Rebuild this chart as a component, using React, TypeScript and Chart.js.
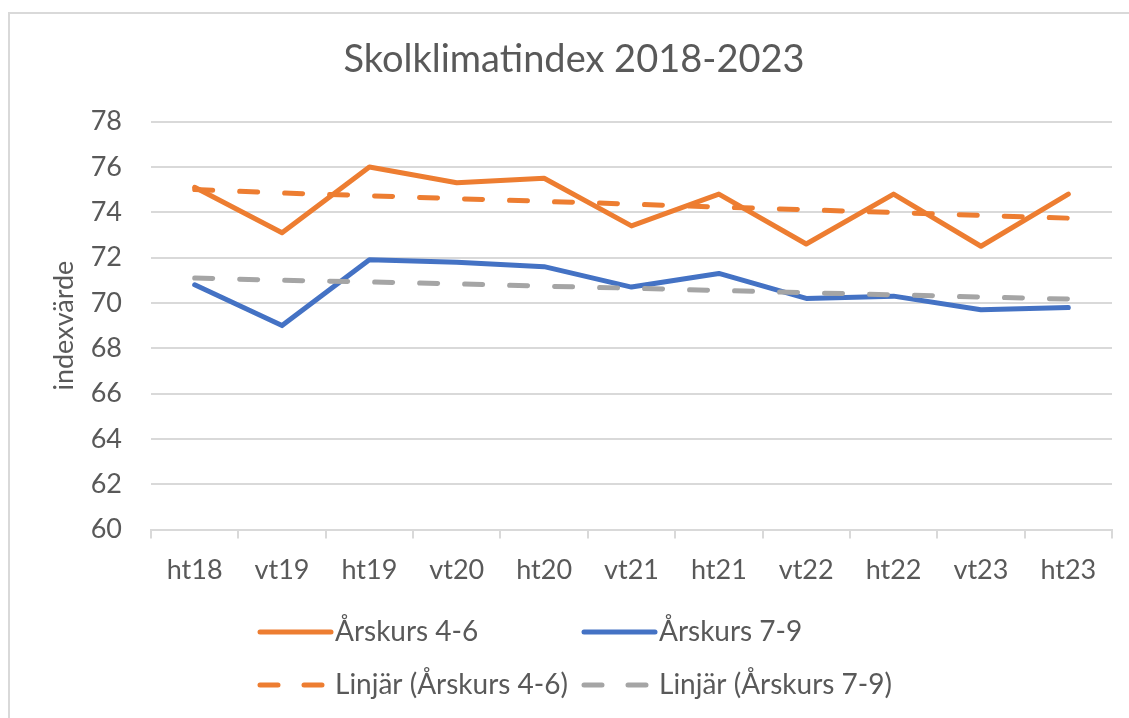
import React, { useEffect, useRef } from "react";
import { Chart, registerables } from "chart.js";

Chart.register(...registerables);

const categories = ["ht18", "vt19", "ht19", "vt20", "ht20", "vt21", "ht21", "vt22", "ht22", "vt23", "ht23"];
const grade46 = [75.1, 73.1, 76.0, 75.3, 75.5, 73.4, 74.8, 72.6, 74.8, 72.5, 74.8];
const grade79 = [70.8, 69.0, 71.9, 71.8, 71.6, 70.7, 71.3, 70.2, 70.3, 69.7, 69.8];
const trend46 = [75.0, 74.85, 74.73, 74.6, 74.48, 74.36, 74.23, 74.11, 73.99, 73.86, 73.74];
const trend79 = [71.1, 71.0, 70.93, 70.84, 70.74, 70.65, 70.55, 70.45, 70.36, 70.26, 70.17];
const yTicksMin = 60;
const yTicksMax = 78;
const yStep = 2;

const TEXT = "#595959";
const GRID = "#d9d9d9";
const FONT = "Lato";

const legendPlugin = {
  id: "gridLegend",
  afterDraw(chart: any) {
    const ctx = chart.ctx;
    const ds = chart.data.datasets;
    const cols = [258, 582];
    const rows = [632, 685];
    ctx.save();
    ds.forEach((d: any, i: number) => {
      const x = cols[i % 2];
      const y = rows[Math.floor(i / 2)];
      ctx.beginPath();
      ctx.strokeStyle = d.borderColor;
      ctx.lineWidth = 5;
      ctx.lineCap = "round";
      ctx.setLineDash(d.borderDash && d.borderDash.length ? [18, 26] : []);
      ctx.moveTo(x + 2, y);
      ctx.lineTo(x + 73, y);
      ctx.stroke();
      ctx.setLineDash([]);
      ctx.fillStyle = TEXT;
      ctx.font = `28px ${FONT}`;
      ctx.textBaseline = "middle";
      ctx.textAlign = "left";
      ctx.fillText(d.label, x + 77, y);
    });
    ctx.restore();
  },
};

export default function App() {
  const ref = useRef<HTMLCanvasElement>(null);
  useEffect(() => {
    if (!ref.current) return;
    const chart = new Chart(ref.current, {
      type: "line",
      data: {
        labels: categories,
        datasets: [
          { label: "Årskurs 4-6", data: grade46, borderColor: "#ED7D31", backgroundColor: "#ED7D31", borderWidth: 5, pointRadius: 0, tension: 0, borderJoinStyle: "round", borderCapStyle: "round", order: 2 },
          { label: "Årskurs 7-9", data: grade79, borderColor: "#4472C4", backgroundColor: "#4472C4", borderWidth: 5, pointRadius: 0, tension: 0, borderJoinStyle: "round", borderCapStyle: "round", order: 2 },
          { label: "Linjär (Årskurs 4-6)", data: trend46, borderColor: "#ED7D31", backgroundColor: "#ED7D31", borderWidth: 5, borderDash: [18, 27], borderCapStyle: "round", pointRadius: 0, tension: 0, order: 1 },
          { label: "Linjär (Årskurs 7-9)", data: trend79, borderColor: "#A5A5A5", backgroundColor: "#A5A5A5", borderWidth: 5, borderDash: [18, 27], borderCapStyle: "round", pointRadius: 0, tension: 0, order: 1 },
        ],
      },
      options: {
        responsive: false,
        animation: false,
        layout: { padding: { left: 36, right: 17, top: 0, bottom: 117 } },
        plugins: {
          legend: { display: false },
          tooltip: { enabled: false },
          title: {
            display: true,
            text: "Skolklimatindex 2018-2023",
            color: TEXT,
            font: { family: FONT, size: 38, weight: "normal" },
            padding: { top: 37, bottom: 39 },
          },
        },
        scales: {
          x: {
            offset: true,
            grid: { offset: true, drawOnChartArea: false, drawTicks: true, tickLength: 9, color: GRID, lineWidth: 2 },
            border: { display: true, color: GRID, width: 2 },
            ticks: { color: TEXT, font: { family: FONT, size: 27 }, padding: 15, maxRotation: 0, autoSkip: false },
          },
          y: {
            min: yTicksMin,
            max: yTicksMax,
            afterFit: (s: any) => { s.width = 115; },
            grid: { color: GRID, lineWidth: 2, drawTicks: false },
            border: { display: false },
            ticks: { stepSize: yStep, color: TEXT, font: { family: FONT, size: 27 }, padding: 29 },
            title: {
              display: true,
              text: "indexvärde",
              color: TEXT,
              font: { family: FONT, size: 27 },
              padding: { top: 12, bottom: 0 },
            },
          },
        },
      },
      plugins: [legendPlugin],
    } as any);
    return () => chart.destroy();
  }, []);

  return (
    <div style={{ position: "fixed", left: 0, top: 0, width: 1129, height: 718, overflow: "hidden", background: "#fff" }}>
      <div style={{ position: "absolute", left: 8, top: 12, width: 1300, height: 900, borderLeft: `2px solid ${GRID}`, borderTop: `2px solid ${GRID}` }} />
      <canvas ref={ref} width={1129} height={718} style={{ position: "absolute", left: 0, top: 0 }} />
    </div>
  );
}
